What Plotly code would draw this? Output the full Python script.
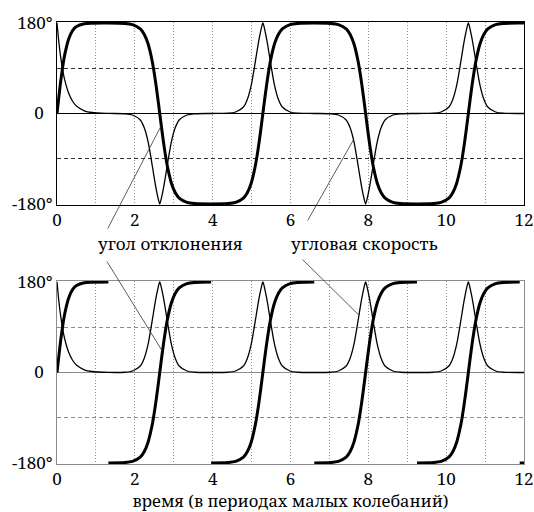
import plotly.graph_objects as go

# time, in periods of small oscillations
t_top = [0, 0.05, 0.1, 0.15, 0.2, 0.3, 0.4, 0.5, 0.7, 0.9, 1.32,
         1.74, 1.94, 2.14, 2.24, 2.34, 2.44, 2.49, 2.54, 2.59, 2.64, 2.69, 2.74, 2.79, 2.84, 2.94, 3.04, 3.14, 3.34, 3.54, 3.96,
         4.39, 4.59, 4.79, 4.89, 4.99, 5.09, 5.14, 5.19, 5.24, 5.29, 5.34, 5.39, 5.44, 5.49, 5.59, 5.69, 5.79, 5.99, 6.19, 6.61,
         7.03, 7.23, 7.43, 7.53, 7.63, 7.73, 7.78, 7.83, 7.88, 7.93, 7.98, 8.03, 8.08, 8.13, 8.23, 8.33, 8.43, 8.63, 8.83, 9.25,
         9.67, 9.87, 10.07, 10.17, 10.27, 10.37, 10.42, 10.47, 10.52, 10.57, 10.62, 10.67, 10.72, 10.77, 10.87, 10.97, 11.07, 11.27, 11.47, 11.89, 12.0]

angle_top = [0, 34.7, 66.9, 94.7, 117.5, 148.4, 164.8, 172.9, 178.5, 179.7, 180,
             179.2, 176.9, 168.4, 157.8, 138.6, 106.5, 84.6, 58.9, 30.3, 0, -30.3, -58.9, -84.6, -106.5, -138.6, -157.8, -168.4, -176.9, -179.2, -180,
             -179.2, -176.9, -168.4, -157.8, -138.6, -106.5, -84.6, -58.9, -30.3, 0, 30.3, 58.9, 84.6, 106.5, 138.6, 157.8, 168.4, 176.9, 179.2, 180,
             179.2, 176.9, 168.4, 157.8, 138.6, 106.5, 84.6, 58.9, 30.3, 0, -30.3, -58.9, -84.6, -106.5, -138.6, -157.8, -168.4, -176.9, -179.2, -180,
             -179.2, -176.9, -168.4, -157.8, -138.6, -106.5, -84.6, -58.9, -30.3, 0, 30.3, 58.9, 84.6, 106.5, 138.6, 157.8, 168.4, 176.9, 179.2, 180, 180]

velocity_top = [180, 140.2, 109.2, 85.0, 66.2, 40.2, 24.4, 14.8, 5.4, 2.0, 0.2,
                -0.5, -3, -13, -28, -56, -100, -124, -147, -166, -180, -166, -147, -124, -100, -56, -28, -13, -3, -0.5, 0,
                0.5, 3, 13, 28, 56, 100, 124, 147, 166, 180, 166, 147, 124, 100, 56, 28, 13, 3, 0.5, 0,
                -0.5, -3, -13, -28, -56, -100, -124, -147, -166, -180, -166, -147, -124, -100, -56, -28, -13, -3, -0.5, 0,
                0.5, 3, 13, 28, 56, 100, 124, 147, 166, 180, 166, 147, 124, 100, 56, 28, 13, 3, 0.5, 0, 0]

velocity_bottom = [180, 140.2, 109.2, 85.0, 66.2, 40.2, 24.4, 14.8, 5.4, 2.0, 0.2,
                   0.5, 3, 13, 28, 56, 100, 124, 147, 166, 180, 166, 147, 124, 100, 56, 28, 13, 3, 0.5, 0,
                   0.5, 3, 13, 28, 56, 100, 124, 147, 166, 180, 166, 147, 124, 100, 56, 28, 13, 3, 0.5, 0,
                   0.5, 3, 13, 28, 56, 100, 124, 147, 166, 180, 166, 147, 124, 100, 56, 28, 13, 3, 0.5, 0,
                   0.5, 3, 13, 28, 56, 100, 124, 147, 166, 180, 166, 147, 124, 100, 56, 28, 13, 3, 0.5, 0, 0]

t_bottom_angle = [0, 0.05, 0.1, 0.15, 0.2, 0.3, 0.4, 0.5, 0.7, 0.9, 1.32, 1.32, 1.32,
                  1.74, 1.94, 2.14, 2.24, 2.34, 2.44, 2.49, 2.54, 2.59, 2.64, 2.69, 2.74, 2.79, 2.84, 2.94, 3.04, 3.14, 3.34, 3.54, 3.96, 3.96, 3.96,
                  4.39, 4.59, 4.79, 4.89, 4.99, 5.09, 5.14, 5.19, 5.24, 5.29, 5.34, 5.39, 5.44, 5.49, 5.59, 5.69, 5.79, 5.99, 6.19, 6.61, 6.61, 6.61,
                  7.03, 7.23, 7.43, 7.53, 7.63, 7.73, 7.78, 7.83, 7.88, 7.93, 7.98, 8.03, 8.08, 8.13, 8.23, 8.33, 8.43, 8.63, 8.83, 9.25, 9.25, 9.25,
                  9.67, 9.87, 10.07, 10.17, 10.27, 10.37, 10.42, 10.47, 10.52, 10.57, 10.62, 10.67, 10.72, 10.77, 10.87, 10.97, 11.07, 11.27, 11.47, 11.89, 11.89, 11.89, 12.0]

angle_bottom = [0, 34.7, 66.9, 94.7, 117.5, 148.4, 164.8, 172.9, 178.5, 179.7, 180, None, -180,
                -179.2, -176.9, -168.4, -157.8, -138.6, -106.5, -84.6, -58.9, -30.3, 0, 30.3, 58.9, 84.6, 106.5, 138.6, 157.8, 168.4, 176.9, 179.2, 180, None, -180,
                -179.2, -176.9, -168.4, -157.8, -138.6, -106.5, -84.6, -58.9, -30.3, 0, 30.3, 58.9, 84.6, 106.5, 138.6, 157.8, 168.4, 176.9, 179.2, 180, None, -180,
                -179.2, -176.9, -168.4, -157.8, -138.6, -106.5, -84.6, -58.9, -30.3, 0, 30.3, 58.9, 84.6, 106.5, 138.6, 157.8, 168.4, 176.9, 179.2, 180, None, -180,
                -179.2, -176.9, -168.4, -157.8, -138.6, -106.5, -84.6, -58.9, -30.3, 0, 30.3, 58.9, 84.6, 106.5, 138.6, 157.8, 168.4, 176.9, 179.2, 180, None, -180, -180]

x_ticks = [0, 2, 4, 6, 8, 10, 12]
x_minor = [1, 3, 5, 7, 9, 11]
y_ticks = [-180, 0, 180]
y_ticktext = ["-180°", "0\u00a0\u00a0", "180°"]
y_minor = [-90, 90]

FONT = "Noto Serif"
SIZE = 17
TITLE_SIZE = 16.5

fig = go.Figure()
fig.add_trace(go.Scatter(x=t_top, y=velocity_top, mode="lines", xaxis="x", yaxis="y",
                         line=dict(color="black", width=1.3, shape="spline", smoothing=0.8)))
fig.add_trace(go.Scatter(x=t_top, y=angle_top, mode="lines", xaxis="x", yaxis="y",
                         line=dict(color="black", width=3, shape="spline", smoothing=0.8)))
fig.add_trace(go.Scatter(x=t_top, y=velocity_bottom, mode="lines", xaxis="x2", yaxis="y2",
                         line=dict(color="black", width=1.3, shape="spline", smoothing=0.8)))
fig.add_trace(go.Scatter(x=t_bottom_angle, y=angle_bottom, mode="lines", xaxis="x2", yaxis="y2",
                         connectgaps=False,
                         line=dict(color="black", width=3, shape="spline", smoothing=0.8)))


def xaxis(anchor, linecolor, title=None):
    d = dict(anchor=anchor, domain=[0, 1], range=[0, 12], tickmode="array", tickvals=x_ticks,
             showline=True, mirror=True, linecolor=linecolor, linewidth=1, automargin=False,
             showgrid=True, gridcolor="#8c8c8c", griddash="1px,2px", gridwidth=1,
             minor=dict(tickvals=x_minor, showgrid=True, gridcolor="#8c8c8c", griddash="1px,2px", gridwidth=1),
             zeroline=False, ticks="", tickfont=dict(family=FONT, size=SIZE, color="black"))
    if title:
        d["title"] = dict(text=title, font=dict(family=FONT, size=TITLE_SIZE, color="black"), standoff=8)
    return d


def yaxis(anchor, domain, linecolor, gridcolor):
    return dict(anchor=anchor, domain=domain, range=[-182, 182], tickmode="array",
                tickvals=y_ticks, ticktext=y_ticktext, showgrid=False, automargin=False,
                minor=dict(tickvals=y_minor, showgrid=True, gridcolor=gridcolor, griddash="4px,3px", gridwidth=1),
                showline=True, mirror=True, linecolor=linecolor, linewidth=1,
                zeroline=True, zerolinecolor=linecolor, zerolinewidth=1,
                ticks="", ticklabelstandoff=0,
                tickfont=dict(family=FONT, size=SIZE, color="black"))


fig.update_layout(
    width=534, height=512,
    margin=dict(l=57, r=10, t=22, b=48, autoexpand=False),
    paper_bgcolor="white", plot_bgcolor="white",
    showlegend=False,
    font=dict(family=FONT, size=SIZE, color="black"),
    xaxis=xaxis("y", "black"),
    yaxis=yaxis("x", [0.586, 1], "black", "#333333"),
    xaxis2=xaxis("y2", "#8c8c8c", "время (в периодах малых колебаний)"),
    yaxis2=yaxis("x2", [0, 0.414], "#8c8c8c", "#8c8c8c"),
)

labels = [
    dict(text="угол отклонения", x=0.244, y=0.50),
    dict(text="угловая скорость", x=0.6595, y=0.50),
]
for a in labels:
    fig.add_annotation(text=a["text"], x=a["x"], y=a["y"], xref="paper", yref="paper",
                       xanchor="center", yanchor="middle",
                       showarrow=False, font=dict(family=FONT, size=SIZE, color="black"))

pointers = [
    dict(x=2.68, y=-24, ax=1.285, ay=-231.7, xr="x", yr="y"),
    dict(x=2.71, y=42, ax=1.26, ay=223.8, xr="x2", yr="y2"),
    dict(x=7.62, y=-52, ax=6.42, ay=-215.8, xr="x", yr="y"),
    dict(x=7.76, y=114, ax=6.27, ay=227.8, xr="x2", yr="y2"),
]
for p in pointers:
    fig.add_annotation(text="", x=p["x"], y=p["y"], xref=p["xr"], yref=p["yr"],
                       ax=p["ax"], ay=p["ay"], axref=p["xr"], ayref=p["yr"],
                       showarrow=True, arrowhead=0, arrowwidth=0.8, arrowcolor="#333333",
                       standoff=0, startstandoff=0)

fig.write_html("out.html")
